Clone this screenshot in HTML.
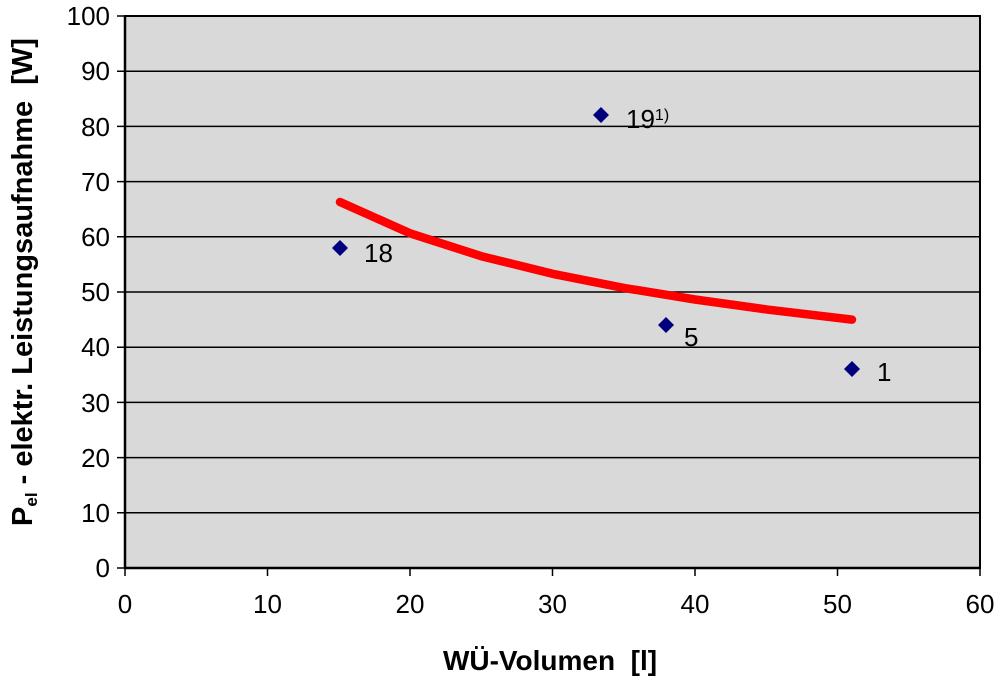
<!DOCTYPE html>
<html><head><meta charset="utf-8"><style>body{margin:0;background:#fff}</style></head><body>
<svg width="1000" height="678" xmlns="http://www.w3.org/2000/svg" font-family="Liberation Sans, Arial, sans-serif">
<rect x="125" y="16" width="855" height="552" fill="#d9d9d9" stroke="#000" stroke-width="2"/>
<g stroke="#000" stroke-width="1.5">
<line x1="117" y1="16" x2="980" y2="16"/><line x1="117" y1="71.2" x2="980" y2="71.2"/><line x1="117" y1="126.4" x2="980" y2="126.4"/><line x1="117" y1="181.6" x2="980" y2="181.6"/><line x1="117" y1="236.8" x2="980" y2="236.8"/><line x1="117" y1="292" x2="980" y2="292"/><line x1="117" y1="347.2" x2="980" y2="347.2"/><line x1="117" y1="402.4" x2="980" y2="402.4"/><line x1="117" y1="457.6" x2="980" y2="457.6"/><line x1="117" y1="512.8" x2="980" y2="512.8"/><line x1="117" y1="568" x2="980" y2="568"/>
<line x1="125" y1="568" x2="125" y2="576"/><line x1="267.5" y1="568" x2="267.5" y2="576"/><line x1="410" y1="568" x2="410" y2="576"/><line x1="552.5" y1="568" x2="552.5" y2="576"/><line x1="695" y1="568" x2="695" y2="576"/><line x1="837.5" y1="568" x2="837.5" y2="576"/><line x1="980" y1="568" x2="980" y2="576"/>
</g>
<line x1="125" y1="16" x2="125" y2="568" stroke="#000" stroke-width="2.5"/>
<line x1="125" y1="568" x2="980" y2="568" stroke="#000" stroke-width="2.5"/>
<g font-size="26" text-anchor="end" fill="#000">
<text x="110" y="25">100</text><text x="110" y="80">90</text><text x="110" y="136">80</text><text x="110" y="191">70</text><text x="110" y="246">60</text><text x="110" y="301">50</text><text x="110" y="356">40</text><text x="110" y="412">30</text><text x="110" y="467">20</text><text x="110" y="522">10</text><text x="110" y="577">0</text>
</g>
<g font-size="26" text-anchor="middle">
<text x="125" y="613">0</text><text x="267.5" y="613">10</text><text x="410" y="613">20</text><text x="552.5" y="613">30</text><text x="695" y="613">40</text><text x="837.5" y="613">50</text><text x="980" y="613">60</text>
</g>
<polyline points="340,202 410,233.3 481.3,256.2 552.5,273.8 623.8,287.9 695,299.5 766.3,309.4 852,319.6" fill="none" stroke="#ff0000" stroke-width="8.5" stroke-linecap="round" stroke-linejoin="round"/>
<g fill="#00007f">
<path d="M340 240 L348 248 L340 256 L332 248Z"/>
<path d="M601 107 L609 115 L601 123 L593 115Z"/>
<path d="M666 317 L674 325 L666 333 L658 325Z"/>
<path d="M852 361 L860 369 L852 377 L844 369Z"/>
</g>
<g font-size="26">
<text x="364" y="262">18</text>
<text x="626" y="128">19<tspan font-size="16" dy="-8">1)</tspan></text>
<text x="684" y="346">5</text>
<text x="877" y="381">1</text>
</g>
<text x="550" y="670" font-size="28" font-weight="bold" text-anchor="middle">WÜ-Volumen&#160; [l]</text>
<text transform="translate(32,282) rotate(-90)" font-size="29" font-weight="bold" text-anchor="middle">P<tspan font-size="17" dy="5">el</tspan><tspan dy="-5"> - elektr. Leistungsaufnahme&#160; [W]</tspan></text>
</svg>
</body></html>
